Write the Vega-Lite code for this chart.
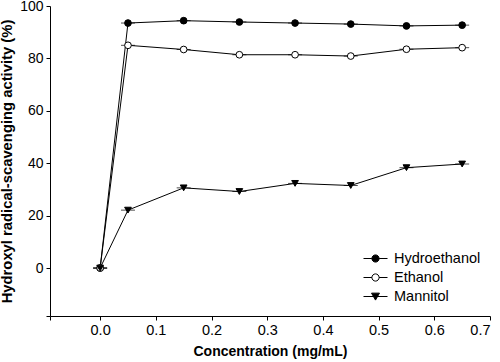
{
  "$schema": "https://vega.github.io/schema/vega-lite/v6.json",
  "width": 440,
  "height": 310,
  "autosize": {"type": "none"},
  "padding": {"left": 50, "top": 6, "right": 10, "bottom": 46},
  "background": "white",
  "config": {
    "view": {"stroke": null},
    "font": "Liberation Sans",
    "axis": {
      "grid": false,
      "domainColor": "black",
      "tickColor": "black",
      "labelColor": "black",
      "titleColor": "black",
      "labelFont": "Liberation Sans",
      "titleFont": "Liberation Sans",
      "labelFontSize": 14.5,
      "titleFontSize": 14,
      "titleFontWeight": "bold",
      "tickSize": 4,
      "labelPadding": 3
    },
    "legend": {
      "labelFont": "Liberation Sans",
      "labelFontSize": 14.5,
      "labelColor": "black"
    }
  },
  "data": {
    "values": [
      {"c": 0, "v": 0, "s": "Hydroethanol"},
      {"c": 0.05, "v": 93.5, "s": "Hydroethanol"},
      {"c": 0.15, "v": 94.4, "s": "Hydroethanol"},
      {"c": 0.25, "v": 93.9, "s": "Hydroethanol"},
      {"c": 0.35, "v": 93.5, "s": "Hydroethanol"},
      {"c": 0.45, "v": 93.1, "s": "Hydroethanol"},
      {"c": 0.55, "v": 92.4, "s": "Hydroethanol"},
      {"c": 0.65, "v": 92.7, "s": "Hydroethanol"},
      {"c": 0, "v": 0, "s": "Ethanol"},
      {"c": 0.05, "v": 85.0, "s": "Ethanol"},
      {"c": 0.15, "v": 83.4, "s": "Ethanol"},
      {"c": 0.25, "v": 81.4, "s": "Ethanol"},
      {"c": 0.35, "v": 81.4, "s": "Ethanol"},
      {"c": 0.45, "v": 80.9, "s": "Ethanol"},
      {"c": 0.55, "v": 83.5, "s": "Ethanol"},
      {"c": 0.65, "v": 84.1, "s": "Ethanol"},
      {"c": 0, "v": 0, "s": "Mannitol"},
      {"c": 0.05, "v": 22.1, "s": "Mannitol"},
      {"c": 0.15, "v": 30.6, "s": "Mannitol"},
      {"c": 0.25, "v": 29.2, "s": "Mannitol"},
      {"c": 0.35, "v": 32.3, "s": "Mannitol"},
      {"c": 0.45, "v": 31.5, "s": "Mannitol"},
      {"c": 0.55, "v": 38.3, "s": "Mannitol"},
      {"c": 0.65, "v": 39.7, "s": "Mannitol"}
    ]
  },
  "encoding": {
    "x": {
      "field": "c",
      "type": "quantitative",
      "scale": {"domain": [-0.09, 0.7], "nice": false, "zero": false},
      "axis": {
        "title": "Concentration (mg/mL)",
        "values": [-0.09, 0, 0.1, 0.2, 0.3, 0.4, 0.5, 0.6, 0.7],
        "labelExpr": "datum.value < 0 ? '' : format(datum.value, '.1f')",
        "titlePadding": 8
      }
    },
    "y": {
      "field": "v",
      "type": "quantitative",
      "scale": {"domain": [-18.3, 100], "nice": false, "zero": false},
      "axis": {
        "title": "Hydroxyl radical-scavenging activity (%)",
        "titleFontSize": 14.8,
        "labelFontSize": 14,
        "values": [-18.3, 0, 20, 40, 60, 80, 100],
        "labelExpr": "datum.value < 0 ? '' : format(datum.value, 'd')",
        "titlePadding": 5
      }
    }
  },
  "layer": [
    {
      "mark": {"type": "line", "color": "black", "strokeWidth": 1},
      "encoding": {"detail": {"field": "s"}}
    },
    {
      "mark": {"type": "tick", "orient": "horizontal", "color": "black", "size": 14, "thickness": 1},
      "encoding": {}
    },
    {
      "transform": [{"filter": "datum.s === 'Hydroethanol'"}],
      "mark": {"type": "point", "shape": "circle", "filled": true, "fill": "black", "stroke": "black", "strokeWidth": 1, "opacity": 1, "size": 45},
      "encoding": {}
    },
    {
      "transform": [{"filter": "datum.s === 'Ethanol'"}],
      "mark": {"type": "point", "shape": "circle", "filled": true, "fill": "white", "stroke": "black", "strokeWidth": 1, "opacity": 1, "size": 45},
      "encoding": {}
    },
    {
      "transform": [{"filter": "datum.s === 'Mannitol'"}],
      "mark": {"type": "point", "shape": "triangle-down", "filled": true, "fill": "black", "stroke": "black", "strokeWidth": 1, "opacity": 1, "size": 45},
      "encoding": {}
    },
    {
      "mark": {"type": "point", "opacity": 0, "strokeWidth": 1},
      "encoding": {
        "shape": {
          "field": "s",
          "title": null,
          "scale": {
            "domain": ["Hydroethanol", "Ethanol", "Mannitol"],
            "range": [
              "M-1,0H-0.3M0.3,0H1M-0.3,0A0.3,0.3 0 1,0 0.3,0A0.3,0.3 0 1,0 -0.3,0Z",
              "M-1,0H-0.3M0.3,0H1M-0.3,0A0.3,0.3 0 1,0 0.3,0A0.3,0.3 0 1,0 -0.3,0Z",
              "M-1,0H1M-0.33,-0.28H0.33L0,0.3Z"
            ]
          },
          "legend": {
            "orient": "none",
            "legendX": 313,
            "legendY": 240,
            "symbolSize": 576,
            "symbolOpacity": 1,
            "symbolStrokeWidth": 1,
            "labelOffset": 6,
            "rowPadding": -11,
            "padding": 0
          }
        },
        "fill": {
          "field": "s",
          "title": null,
          "scale": {"domain": ["Hydroethanol", "Ethanol", "Mannitol"], "range": ["black", "white", "black"]}
        },
        "stroke": {
          "field": "s",
          "title": null,
          "scale": {"domain": ["Hydroethanol", "Ethanol", "Mannitol"], "range": ["black", "black", "black"]}
        }
      }
    }
  ]
}
